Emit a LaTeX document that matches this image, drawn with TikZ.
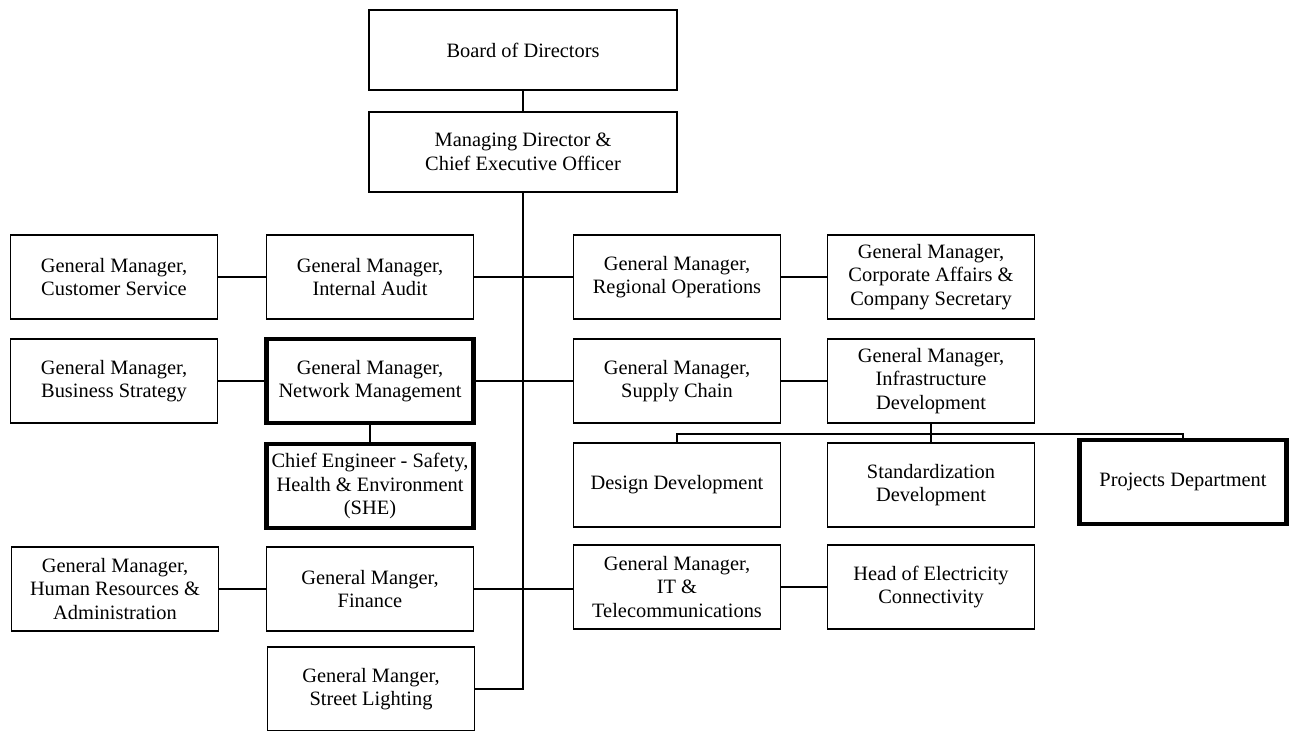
\documentclass[tikz,border=0pt]{standalone}
\usepackage{fontspec}
\setmainfont{Liberation Serif}
\usetikzlibrary{positioning}

\begin{document}
\begin{tikzpicture}[x=0.75pt ,y=-0.75pt ,line width=1.2pt ,
box/.style ={ rectangle ,draw ,align=center ,inner sep=0pt ,
font=\fontsize{15.3}{17.6}\selectfont ,minimum width =155pt ,minimum height =63pt},
wide/.style ={ box ,minimum width =231pt ,minimum height =60pt},
key/.style ={ box ,line width=3.4pt}]
\useasboundingbox (0,0) rectangle (1292,731);
\node[wide] (B) at (523,50) {Board of Directors};
\node[wide] (MD) at (523,152) {Managing Director \&\\ Chief Executive Officer};
\node[box] (CS) at (114,277) {General Manager,\\ Customer Service};
\node[box] (IA) at (370,277) {General Manager,\\ Internal Audit};
\node[box] (RO) at (677,277) {General Manager,\\ Regional Operations};
\node[box] (CA) at (931,277) {General Manager,\\ Corporate Affairs \&\\ Company Secretary};
\node[box] (BS) at (114,381) {General Manager,\\ Business Strategy};
\node[key] (NM) at (370,381) {General Manager,\\ Network Management};
\node[box] (SC) at (677,381) {General Manager,\\ Supply Chain};
\node[box] (ID) at (931,381) {General Manager,\\ Infrastructure\\ Development};
\node[key] (SHE) at (370,486) {Chief Engineer - Safety,\\ Health \& Environment\\ (SHE)};
\node[box] (DD) at (677,485) {Design Development};
\node[box] (SD) at (931,485) {Standardization\\ Development};
\node[key] (PD) at (1183,482) {Projects Department};
\node[box] (HR) at (115,589) {General Manager,\\ Human Resources \&\\ Administration};
\node[box] (FN) at (370,589) {General Manger,\\ Finance};
\node[box] (IT) at (677,587) {General Manager,\\ IT \&\\ Telecommunications};
\node[box] (HE) at (931,587) {Head of Electricity\\ Connectivity};
\node[box] (SL) at (371,689) {General Manger,\\ Street Lighting};
\draw (B) -- (MD);
\draw (MD.south) |- (SL.east);
\draw (CS) -- (IA);
\draw (IA) -- (RO);
\draw (RO) -- (CA);
\draw (BS) -- (NM);
\draw (NM) -- (SC);
\draw (SC) -- (ID);
\draw (NM) -- (SHE);
\draw (HR) -- (FN);
\draw (FN.east) -- (IT.west |- FN.east);
\draw (IT) -- (HE);
\coordinate (bus) at ([yshift=-7.5pt]ID.south);
\draw (ID.south) -- (SD.north);
\draw (DD.north) -- (DD.north |- bus) -- (PD.north |- bus) -- (PD.north);
\end{tikzpicture}
\end{document}
